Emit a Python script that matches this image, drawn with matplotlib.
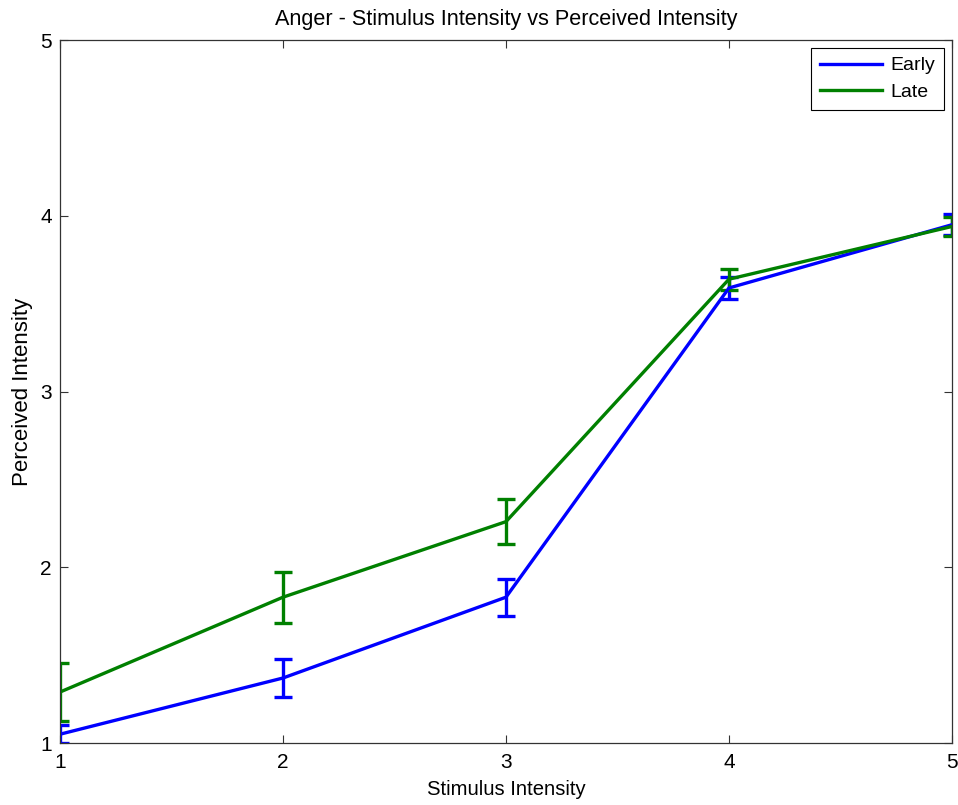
import matplotlib
matplotlib.use("Agg")
import matplotlib.pyplot as plt

stimulus = [1, 2, 3, 4, 5]

early_mean = [1.05, 1.37, 1.83, 3.59, 3.95]
early_err = [0.05, 0.11, 0.105, 0.065, 0.06]

late_mean = [1.29, 1.83, 2.26, 3.64, 3.94]
late_err = [0.165, 0.145, 0.13, 0.06, 0.055]

plt.rcParams["font.family"] = ["Liberation Sans", "DejaVu Sans"]

fig = plt.figure(figsize=(9.58, 8.05), dpi=100)
ax = fig.add_axes([0.0626, 0.077, 0.9311, 0.873])

ax.errorbar(stimulus, early_mean, yerr=early_err, color="#0000ff", lw=2.4,
            capsize=6.5, capthick=2.4, elinewidth=2.4, label="Early")
ax.errorbar(stimulus, late_mean, yerr=late_err, color="#008000", lw=2.4,
            capsize=6.5, capthick=2.4, elinewidth=2.4, label="Late")

ax.set_xlim(1, 5)
ax.set_ylim(1, 5)
ax.set_xticks([1, 2, 3, 4, 5])
ax.set_yticks([1, 2, 3, 4, 5])
ax.tick_params(direction="in", top=True, right=True, labelsize=15, length=6,
               colors="#333333", labelcolor="black")
ax.tick_params(axis="x", pad=7)
ax.tick_params(axis="y", pad=6)
for s in ax.spines.values():
    s.set_linewidth(0.9)
    s.set_color("#333333")

ax.set_xlabel("Stimulus Intensity", fontsize=14.6, labelpad=6)
ax.set_ylabel("Perceived Intensity", fontsize=16, labelpad=5)
ax.set_title("Anger - Stimulus Intensity vs Perceived Intensity", fontsize=15.6, pad=11)

handles, labels = ax.get_legend_handles_labels()
handles = [h[0] for h in handles]
leg = ax.legend(handles, labels, loc="upper right", fontsize=14, fancybox=False,
                edgecolor="black", framealpha=1, handlelength=3.2,
                borderaxespad=0.4, handletextpad=0.45, labelspacing=0.45,
                borderpad=0.45)
leg.get_frame().set_linewidth(0.8)

fig.savefig("out.png", dpi=100)
